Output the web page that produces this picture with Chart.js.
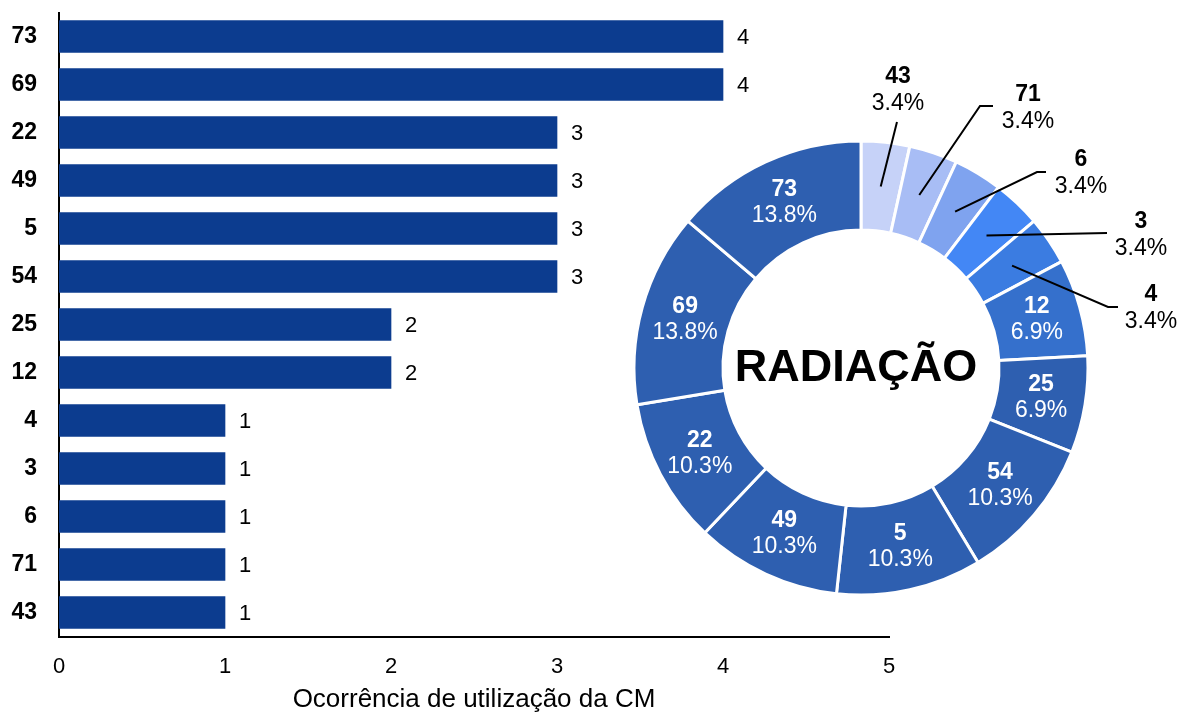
<!DOCTYPE html>
<html>
<head>
<meta charset="utf-8">
<script src="https://cdn.jsdelivr.net/npm/chart.js@4.4.0/dist/chart.umd.min.js"></script>
<style>
    body { margin: 0; background: #fff; }
    #wrap { position: relative; width: 1181px; height: 713px; }
    #barChart { position: absolute; left: 0; top: 0; }
    #donutChart { position: absolute; left: 541px; top: 48px; }
</style>
</head>
<body>
<div id="wrap">
    <canvas id="barChart" width="1181" height="713"></canvas>
    <canvas id="donutChart" width="640" height="640"></canvas>
</div>
<script>
// bar order, top to bottom
const categories = ['73', '69', '22', '49', '5', '54', '25', '12', '4', '3', '6', '71', '43']
const occurrences = [4, 4, 3, 3, 3, 3, 2, 2, 1, 1, 1, 1, 1]
const xTicks = [0, 1, 2, 3, 4, 5]

// donut goes clockwise from the top, the other way round
const donutCategories = categories.slice().reverse()
const donutValues = occurrences.slice().reverse()
const donutColors = ['#c6d2f8', '#a8bdf5', '#7fa3ef', '#4387f5', '#3b7ce1', '#3570cc',
    '#2e5fb0', '#2e5fb0', '#2e5fb0', '#2e5fb0', '#2e5fb0', '#2e5fb0', '#2e5fb0']

// small slices get their label outside, with a leader line (offsets from donut centre)
const outsideLabels = {
    '43': { path: [[36, -246]], text: [37, -291] },
    '71': { path: [[119, -262], [132, -262]], text: [167, -273] },
    '6':  { path: [[176, -196], [185, -196]], text: [220, -208] },
    '3':  { path: [[246, -135]], text: [280, -146] },
    '4':  { path: [[247, -61], [257, -61]], text: [290, -73] }
}

const FONT = 'Arial, "Liberation Sans", sans-serif'
Chart.defaults.font.family = FONT
Chart.defaults.color = '#000'

const barValues = {
    id: 'barValues',
    afterDatasetsDraw(chart) {
        const ctx = chart.ctx
        const meta = chart.getDatasetMeta(0)
        ctx.save()
        ctx.font = '22px ' + FONT
        ctx.fillStyle = '#000'
        ctx.textAlign = 'left'
        ctx.textBaseline = 'middle'
        meta.data.forEach((bar, i) => {
            ctx.fillText(String(occurrences[i]), bar.x + 14, bar.y + 1)
        })
        ctx.restore()
    }
}

const donutLabels = {
    id: 'donutLabels',
    afterDatasetsDraw(chart) {
        const ctx = chart.ctx
        const meta = chart.getDatasetMeta(0)
        const data = chart.data.datasets[0].data
        const total = data.reduce((a, b) => a + b, 0)
        const cx = meta.data[0].x
        const cy = meta.data[0].y
        ctx.save()
        ctx.textAlign = 'center'
        ctx.textBaseline = 'middle'
        meta.data.forEach((arc, i) => {
            const name = chart.data.labels[i]
            const pct = (data[i] / total * 100).toFixed(1) + '%'
            const pos = arc.tooltipPosition()
            const out = outsideLabels[name]
            if (out) {
                ctx.strokeStyle = '#000'
                ctx.lineWidth = 2
                ctx.beginPath()
                ctx.moveTo(pos.x, pos.y)
                out.path.forEach(p => ctx.lineTo(cx + p[0], cy + p[1]))
                ctx.stroke()
                ctx.fillStyle = '#000'
                ctx.font = 'bold 23px ' + FONT
                ctx.fillText(name, cx + out.text[0], cy + out.text[1])
                ctx.font = '23px ' + FONT
                ctx.fillText(pct, cx + out.text[0], cy + out.text[1] + 27)
            } else {
                ctx.fillStyle = '#fff'
                ctx.font = 'bold 23px ' + FONT
                ctx.fillText(name, pos.x, pos.y - 13)
                ctx.font = '23px ' + FONT
                ctx.fillText(pct, pos.x, pos.y + 13)
            }
        })
        ctx.fillStyle = '#000'
        ctx.font = 'bold 45px ' + FONT
        ctx.fillText('RADIAÇÃO', cx - 5, cy + 1)
        ctx.restore()
    }
}

var barChart = new Chart(document.getElementById('barChart'), {
    type: 'bar',
    data: {
        labels: categories,
        datasets: [{
            data: occurrences,
            backgroundColor: '#0c3c8f',
            barThickness: 32
        }]
    },
    options: {
        indexAxis: 'y',
        responsive: false,
        animation: false,
        layout: { padding: { top: 12.5, right: 292, bottom: 0, left: 0 } },
        plugins: {
            legend: { display: false },
            tooltip: { enabled: false }
        },
        scales: {
            x: {
                min: 0,
                max: 5,
                afterBuildTicks: s => { s.ticks = xTicks.map(v => ({ value: v })) },
                ticks: { color: '#000', font: { size: 22 }, padding: 17 },
                grid: { display: false, tickLength: 0 },
                border: { display: true, color: '#000', width: 2 },
                title: {
                    display: true,
                    text: 'Ocorrência de utilização da CM',
                    color: '#000',
                    font: { size: 26, lineHeight: 1 },
                    padding: { top: 0, bottom: 0 }
                },
                afterFit: s => { s.height = 76.5 }
            },
            y: {
                ticks: { color: '#000', font: { size: 23, weight: 'bold' }, padding: 22 },
                grid: { display: false, tickLength: 0 },
                border: { display: true, color: '#000', width: 2 },
                afterFit: s => {
                    s.width = 59
                    s.paddingTop = 0
                    s.paddingBottom = 0
                }
            }
        }
    },
    plugins: [barValues]
})

var donutChart = new Chart(document.getElementById('donutChart'), {
    type: 'doughnut',
    data: {
        labels: donutCategories,
        datasets: [{
            data: donutValues,
            backgroundColor: donutColors,
            borderColor: '#fff',
            borderWidth: 3
        }]
    },
    options: {
        responsive: false,
        animation: false,
        radius: 227,
        cutout: '60.8%',
        plugins: {
            legend: { display: false },
            tooltip: { enabled: false }
        }
    },
    plugins: [donutLabels]
})
</script>
</body>
</html>
